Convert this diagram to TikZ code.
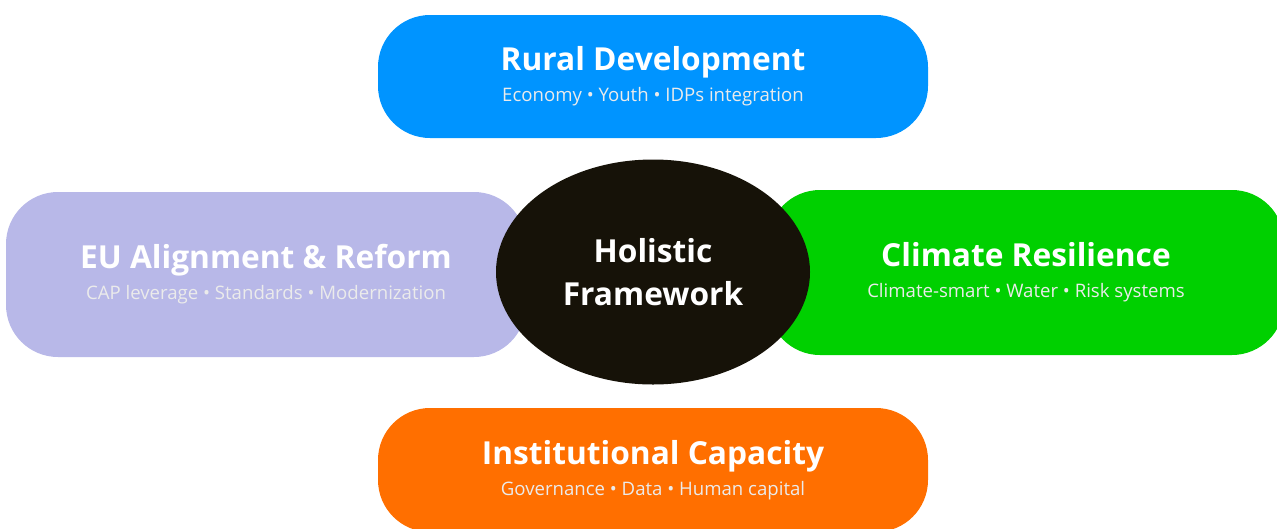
\documentclass[tikz,border=0pt]{standalone}
\usepackage{fontspec}
\setmainfont{Open Sans}
\usetikzlibrary{shapes.geometric}
\definecolor{rural_blue}{RGB}{0, 148, 255}
\definecolor{eu_lilac}{RGB}{184, 184, 232}
\definecolor{climate_green}{RGB}{0, 208, 0}
\definecolor{inst_orange}{RGB}{255, 111, 0}
\definecolor{core_black}{RGB}{22, 18, 8}
\newcommand{\pillhead}[2]{{\fontsize{31.7}{31.7}\selectfont\bfseries #1}\\{\color{white!92!black} #2}}

\begin{document}
\begin{tikzpicture}[x=1pt, y=-1pt,
        pill/.style={rounded corners=52pt, inner sep=0pt, text=white, align=center,
            font=\fontsize{18.6}{31}\selectfont},
        core/.style={ellipse, fill=core_black, inner sep=0pt, minimum width=314pt, minimum height=225pt,
            text=white, align=center, font=\fontsize{31.7}{43}\selectfont\bfseries}]
        \useasboundingbox (0,0) rectangle (1277,528);

        % Rural Development
        \node[pill, fill=rural_blue, minimum width=550pt, minimum height=123pt] (rural) at (653,76.5)
            {\pillhead{Rural Development}{Economy • Youth • IDPs integration}};

        % EU Alignment
        \node[pill, fill=eu_lilac, minimum width=520pt, minimum height=165pt] (eu) at (266,274.5)
            {\pillhead{EU Alignment \& Reform}{CAP leverage • Standards • Modernization}};

        % Climate Resilience
        \node[pill, fill=climate_green, minimum width=516pt, minimum height=165pt] (climate) at (1026,272.5)
            {\pillhead{Climate Resilience}{Climate-smart • Water • Risk systems}};

        % Institutional Capacity
        \node[pill, fill=inst_orange, minimum width=550pt, minimum height=124pt] (inst) at (653,470)
            {\pillhead{Institutional Capacity}{Governance • Data • Human capital}};

        % Centre
        \node[core] (holistic) at (653,272) {Holistic\\Framework};
    \end{tikzpicture}
\end{document}
